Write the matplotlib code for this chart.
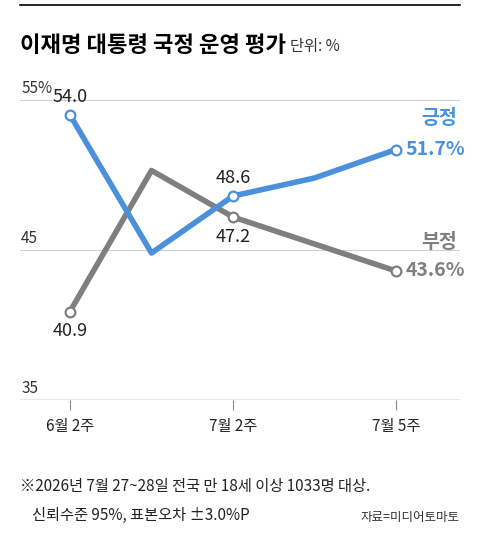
import matplotlib.pyplot as plt

plt.rcParams['font.family'] = ['Noto Sans CJK KR', 'DejaVu Sans']

x_idx = [0, 1, 2, 3, 4]
tick_idx = [0, 2, 4]
tick_labels = ['6월 2주', '7월 2주', '7월 5주']
positive = [54.0, 44.8, 48.6, 49.8, 51.7]
negative = [40.9, 50.3, 47.2, 45.4, 43.6]
marked = [0, 2, 4]

blue = '#4a90dc'
grey = '#7f7f7f'

fig = plt.figure(figsize=(4.8, 5.5), dpi=100)
ax = fig.add_axes([20 / 480, 150 / 550, 440 / 480, 315 / 550])
ax.set_xlim(-50 / 81.5, 4 + 64 / 81.5)
ax.set_ylim(35, 56)

for y in [45, 55]:
    ax.axhline(y, color='#d0d0d0', lw=0.8, zorder=0)
ax.axhline(35, color='#888888', lw=1.0)

for vals, c in [(negative, grey), (positive, blue)]:
    ax.plot(x_idx, vals, color=c, lw=4, solid_capstyle='butt', zorder=2)
    ax.plot([x_idx[i] for i in marked], [vals[i] for i in marked], 'o', ms=7,
            mfc='white', mec=c, mew=1.6, zorder=3)

# value labels
ax.text(0, positive[0] + 0.6, '54.0', ha='center', va='bottom', fontsize=13, color='#222')
ax.text(0, negative[0] - 0.7, '40.9', ha='center', va='top', fontsize=13, color='#222')
ax.text(2, positive[2] + 0.6, '48.6', ha='center', va='bottom', fontsize=13, color='#222')
ax.text(2, negative[2] - 0.7, '47.2', ha='center', va='top', fontsize=13, color='#222')
ax.text(4.12, positive[4], '51.7%', ha='left', va='center', fontsize=14, color=blue, weight='bold')
ax.text(4.12, negative[4], '43.6%', ha='left', va='center', fontsize=14, color=grey, weight='bold')
ax.text(4.75, 53.8, '긍정', ha='right', va='center', fontsize=14, color=blue, weight='bold')
ax.text(4.75, 45.5, '부정', ha='right', va='center', fontsize=14, color=grey, weight='bold')

for y, s in [(55, '55%'), (45, '45'), (35, '35')]:
    ax.text(-0.6, y + 0.2, s, ha='left', va='bottom', fontsize=11, color='#333')

ax.set_xticks(tick_idx)
ax.set_xticklabels(tick_labels, fontsize=11, color='#222')
ax.tick_params(axis='x', length=7, color='#888888', pad=6)
ax.set_yticks([])
for s in ax.spines.values():
    s.set_visible(False)

fig.add_artist(plt.Line2D([20 / 480, 460 / 480], [545 / 550, 545 / 550], color='black', lw=1.2))
fig.text(20 / 480, 1 - 45 / 550, '이재명 대통령 국정 운영 평가', fontsize=16, weight='bold', va='center')
fig.text(290 / 480, 1 - 47 / 550, '단위: %', fontsize=11, va='center', color='#333')
fig.text(20 / 480, 1 - 487 / 550, '※2026년 7월 27~28일 전국 만 18세 이상 1033명 대상.',
         fontsize=11, va='center', color='#222')
fig.text(32 / 480, 1 - 515 / 550, '신뢰수준 95%, 표본오차 ±3.0%P', fontsize=11, va='center', color='#222')
fig.text(460 / 480, 1 - 517 / 550, '자료=미디어토마토', fontsize=9, va='center', ha='right', color='#333')

fig.savefig('out.png', dpi=100)
